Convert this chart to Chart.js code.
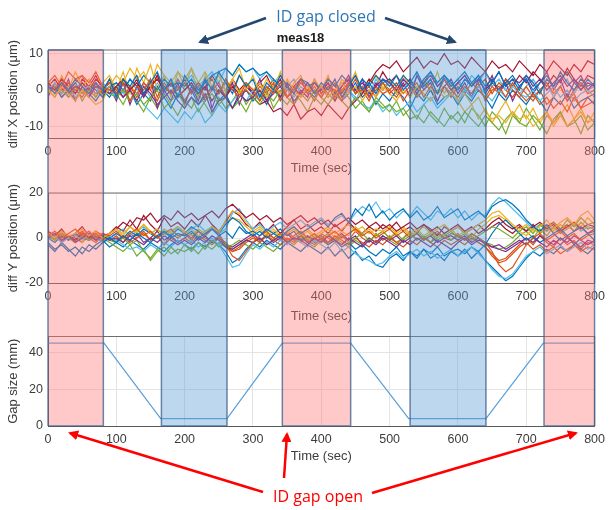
<!DOCTYPE html>
<html>
<head>
<meta charset="utf-8">
<script src="https://cdn.jsdelivr.net/npm/chart.js@4.4.1/dist/chart.umd.min.js"></script>
<style>
  html, body { margin: 0; padding: 0; background: #fff; }
  #wrap { position: relative; width: 611px; height: 510px; overflow: hidden; }
  #wrap canvas { position: absolute; left: 0; }
  #notes { position: absolute; left: 0; top: 0; pointer-events: none; }
</style>
</head>
<body>
<div id="wrap">
  <canvas id="cx" width="611" height="176" style="top:0px"></canvas>
  <canvas id="cy" width="611" height="148" style="top:176px"></canvas>
  <canvas id="cg" width="611" height="186" style="top:324px"></canvas>
  <svg id="notes" width="611" height="510">
    <defs>
      <marker id="headBlue" viewBox="0 0 10 10" refX="8" refY="5" markerWidth="4" markerHeight="4" orient="auto">
        <path d="M0,0 L10,5 L0,10 z" fill="#24476e"/>
      </marker>
      <marker id="headRed" viewBox="0 0 10 10" refX="8" refY="5" markerWidth="4" markerHeight="4" orient="auto">
        <path d="M0,0 L10,5 L0,10 z" fill="#ff0000"/>
      </marker>
    </defs>
    <line x1="266" y1="18" x2="200" y2="42" stroke="#24476e" stroke-width="2.5" marker-end="url(#headBlue)"/>
    <line x1="385" y1="18" x2="455" y2="42" stroke="#24476e" stroke-width="2.5" marker-end="url(#headBlue)"/>
    <text x="326" y="22" text-anchor="middle" font-family="Open Sans, sans-serif" font-size="16" fill="#2e75b6">ID gap closed</text>
    <line x1="263" y1="492" x2="70" y2="433" stroke="#ff0000" stroke-width="2.5" marker-end="url(#headRed)"/>
    <line x1="284" y1="478" x2="287" y2="434" stroke="#ff0000" stroke-width="2.5" marker-end="url(#headRed)"/>
    <line x1="372" y1="493" x2="576" y2="433" stroke="#ff0000" stroke-width="2.5" marker-end="url(#headRed)"/>
    <text x="318" y="502" text-anchor="middle" font-family="Open Sans, sans-serif" font-size="16" fill="#ff0000">ID gap open</text>
  </svg>
</div>
<script>
// ---- data ----
const times = [0, 10, 20, 30, 40, 50, 60, 70, 80, 90,
  100, 110, 120, 130, 140, 150, 160, 170, 180, 190,
  200, 210, 220, 230, 240, 250, 260, 270, 280, 290,
  300, 310, 320, 330, 340, 350, 360, 370, 380, 390,
  400, 410, 420, 430, 440, 450, 460, 470, 480, 490,
  500, 510, 520, 530, 540, 550, 560, 570, 580, 590,
  600, 610, 620, 630, 640, 650, 660, 670, 680, 690,
  700, 710, 720, 730, 740, 750, 760, 770, 780, 790, 800];

// diff X position (um), one array per BPM
const x1 = [1, -1, 2, 0, 3, 1, -1, 2, 0, 3, -2, 3, 1, 4, -1, 2, 5, 0, 3, -2, 4, 1, -1, 3, 0, 5, 2, -1, 4, 1,
  3, -2, 2, 0, 4, 1, -1, 3, 2, -1, 2, 0, 3, -2, 1, 4, 0, 2, -1, 3, 1, 4, 0, 2, 5, 1, 3, -1, 4, 2,
  0, 3, 1, 4, -1, 2, 5, 1, 3, 0, 4, 2, -1, 3, 1, 5, 2, 0, 3, 1, 2];
const x2 = [2, 4, 1, 5, 3, 4, 2, 5, 1, 0, -1, 2, -3, 1, 0, 3, -2, 2, -1, 1, -3, 0, 2, -2, 1, -1, 3, 0, -2, 2,
  0, -3, 1, -1, 2, -2, 0, 3, -1, 1, -2, 1, 0, -3, 2, -1, 1, -2, 0, 2, -1, 1, -3, 0, 2, -2, 1, -1, 3, 0,
  -2, 1, -1, 2, -3, 0, 1, -2, 2, -1, -3, -1, -4, -2, -5, -3, -6, -2, -5, -4, -3];
const x3 = [0, -2, 1, -1, -3, 0, -2, -4, -3, 1, 4, 2, 6, 3, 5, 1, 7, 4, 2, 5, 3, 6, 2, 5, 1, 4, 0, 3, -1, 2,
  0, 2, -2, 1, -1, 3, 0, -2, 1, -1, 1, -2, 0, 2, -1, 1, -3, 0, -2, 1, -1, -3, 0, -2, 1, -1, -3, 0, -2, -1,
  -3, -1, -4, -2, -6, -8, -7, -9, -6, -8, -7, -10, -8, -6, -9, -7, -10, -8, -6, -9, -8];
const x4 = [1, 0, 2, -1, 1, 0, -2, 1, 0, -1, 1, -2, 0, -3, 1, -1, -4, -2, 0, -3, -5, -2, -4, -1, -6, -3, -2, -5, -1, -3,
  -2, 0, -3, -1, 1, -2, 0, -1, 2, -1, 0, 2, -1, 1, 3, 0, 2, -1, 1, 3, 2, 0, 3, 1, -1, 2, 4, 1, 3, 0,
  2, 4, 1, 3, 0, 2, 5, 1, 3, 2, 4, 1, 3, 0, 2, 4, 1, 3, 0, 2, 1];
const x5 = [-1, 1, 0, -2, 1, -1, 0, -2, 1, -1, -2, 0, -3, -1, -4, -2, 0, -5, -3, -1, -4, -2, -6, -3, -1, -4, -2, -5, -3, -6,
  -2, -4, -1, -3, 0, -2, -4, -1, -3, 0, -2, -4, -1, -3, -5, -2, -4, -6, -3, -5, -4, -6, -5, -8, -7, -9, -6, -8, -10, -7,
  -9, -6, -8, -10, -7, -9, -11, -8, -6, -9, -10, -7, -9, -12, -8, -6, -10, -9, -7, -11, -9];
const x6 = [0, 2, -1, 1, -2, 0, 1, -1, 2, 0, -2, 0, -3, -1, -4, -6, -8, -5, -7, -9, -6, -8, -5, -9, -7, -4, -6, -3, -1, -3,
  0, -2, 1, -1, 2, 0, -2, 1, -1, 0, -2, 1, -1, -3, 0, -2, -4, -5, -3, -6, -4, -7, -5, -3, -6, -4, -2, -5, -3, -1,
  -3, 0, -2, 1, -1, -3, 0, -2, 1, -1, -2, 0, -3, -1, 1, -2, 0, -3, -1, 0, -2];
const x7 = [2, 0, 3, 1, -1, 2, 0, 3, 1, -1, 1, 3, 0, 2, -1, 1, 3, 0, 2, -2, 0, 2, -1, 1, -3, 0, -2, 1, -1, -3,
  -2, -4, -3, -6, -5, -7, -4, -8, -6, -5, -7, -4, -6, -8, -5, -3, -1, 2, 5, 7, 6, 8, 5, 7, 9, 6, 8, 7, 10, 7,
  8, 6, 9, 7, 5, 8, 6, 7, 5, 8, 6, 4, 7, 5, 8, 6, 4, 7, 5, 8, 7];
const x8 = [-1, 1, -2, 0, 2, -1, 1, 0, -2, 1, 2, 0, 3, 1, 4, 2, 0, 3, 1, 2, 1, 3, 0, 2, 4, 5, 6, 4, 7, 5,
  6, 4, 5, 3, 1, 2, 0, 3, 1, 2, 0, 3, 1, 4, 2, 0, 3, 1, 4, 2, 3, 1, 4, 2, 0, 3, 5, 2, 4, 1,
  3, 5, 2, 4, 1, 3, 0, 2, 4, 1, 3, 0, 2, 4, 1, 3, 5, 2, 0, 3, 1];
const x9 = [0, 1, -1, 2, 0, -2, 1, -1, 0, 2, 0, -2, 1, -1, 2, 0, -3, 1, -1, 0, 2, -1, 1, -3, 0, 2, -2, 1, -1, 0,
  -2, 1, -1, 2, -3, 0, 1, -2, 0, 2, -1, 1, -2, 0, 2, -1, 0, -3, 1, -1, 0, 2, -1, 1, -2, 0, 3, -1, 1, -2,
  1, -1, 2, 0, -2, 1, -1, 3, 0, -2, 1, -2, 0, 2, -1, 1, -3, 0, 2, -1, 0];
const x10 = [3, -1, 4, 0, 5, 1, 3, -2, 2, 4, 0, 5, -1, 6, 2, 7, 0, 4, -2, 5, 1, 6, -2, 4, 0, 5, -1, 3, 6, 0,
  4, -1, 3, 0, 5, -2, 2, 4, -1, 3, 0, 4, -2, 3, 1, 5, -1, 2, 4, 0, 3, -1, 4, 1, -2, 3, 0, 5, -1, 2,
  -3, -6, -4, -8, -5, -9, -6, -3, -7, -4, -8, -5, -9, -6, -10, -7, -4, -8, -5, -9, -6];
const x11 = [-2, 2, -1, 3, -3, 1, -2, 2, -1, 1, -3, 2, -4, 1, -2, 3, -5, 0, -3, 2, -4, 1, -3, 3, -5, 0, -2, 2, -4, 1,
  -1, 3, -3, 1, -2, 2, -4, 0, -2, 3, -1, 2, -3, 1, 4, -1, 3, -2, 2, 0, 3, -1, 2, -2, 4, 0, 2, -3, 1, 3,
  -1, 2, -2, 3, 0, 4, -1, 2, -3, 1, 3, -1, 2, 5, 0, 3, -2, 2, 4, 0, 2];
const x12 = [0, -2, 2, -1, 1, -3, 0, 2, -2, 1, -1, -4, 0, -3, -6, -2, -5, -1, -4, -7, -3, -5, -1, -4, -7, -2, -5, -3, 0, -4,
  -1, -3, 0, -5, -2, -4, -1, -3, -6, -2, -4, -1, -3, 0, -2, -5, -3, -6, -2, -4, -6, -3, -7, -5, -8, -4, -7, -9, -5, -8,
  -6, -9, -5, -7, -10, -6, -8, -12, -7, -9, -5, -8, -11, -7, -9, -6, -10, -8, -12, -7, -9];
const x13 = [1, -1, 2, -2, 0, 2, -1, 1, -2, 0, 2, -1, 3, 0, 1, -2, 2, -1, 3, 0, 2, 4, 1, 3, 5, 2, 6, 4, 7, 5,
  6, 3, 5, 2, 4, 1, 3, -1, 2, 0, -2, 1, -1, 2, 0, -3, 1, -1, 3, 0, 2, -1, 3, 0, 4, 1, 5, 2, 4, 1,
  3, 0, 4, 2, 5, 1, 3, 0, 2, -1, 1, 3, 0, 2, -2, 1, 3, -1, 2, 0, 1];
const x14 = [1, 3, 0, 2, -1, 3, 1, 4, 0, 2, -1, 2, 0, 3, -2, 1, 4, -1, 2, 0, 3, -1, 2, 0, 4, 1, -2, 3, 0, 2,
  -1, 2, 4, 0, 3, -2, 1, 3, -1, 2, 0, 3, 1, -1, 2, 4, 0, 3, 1, 5, 2, 4, 1, 3, 0, 2, 5, 1, 3, 0,
  2, 4, 1, 3, 5, 2, 0, 3, 1, 4, 2, 5, 3, 1, 4, 2, 6, 3, 1, 4, 3];
const x15 = [-1, 1, -2, 0, -3, 1, -1, -3, 0, -2, 1, -2, 0, -4, -1, -3, 1, -2, -5, -1, -3, 0, -4, -2, 1, -3, -1, -5, -2, 0,
  -3, -1, -4, 0, -2, 1, -3, -1, 0, -2, 1, -2, 0, -3, -1, 2, -2, 0, -4, -1, -3, 0, -2, -5, -1, -3, 0, -4, -2, -1,
  -4, -1, -3, 0, -2, -5, -1, -3, 0, -2, -4, -1, -3, -6, -2, -4, -1, -5, -3, -2, -4];
const x16 = [2, 0, 3, -1, 2, 4, 0, 2, -1, 3, 0, 3, 1, -2, 2, 0, 4, 1, -1, 3, 0, 2, -2, 1, 3, -1, 2, 0, 4, 1,
  -1, 2, 0, 3, -2, 1, -1, 2, 0, -3, 1, -1, 2, -2, 0, 3, -1, 1, -2, 2, 0, -2, 1, 3, -1, 2, 0, -3, 1, -1,
  2, 0, -2, 1, 3, -1, 2, 0, -2, 1, -1, -3, 0, -4, -2, 1, -3, -1, -5, -2, -1];

// diff Y position (um)
const y1 = [-2, -5, -3, -6, -4, -7, -3, -5, -2, 0, -2, 1, -1, 2, 0, -2, 1, 3, 0, 2, 1, 3, 0, 2, 4, 1, 3, 0, 5, 2,
  3, 1, 4, 2, 0, 3, 5, 2, 4, 6, 8, 5, 9, 11, 7, 13, 10, 15, 9, 12, 8, 11, 13, 9, 12, 8, 10, 14, 9, 11,
  13, 8, 10, 12, 9, 14, 16, 17, 15, 12, 8, 5, 3, 6, 2, 4, 1, 3, 5, 2, 3];
const y2 = [1, 3, 0, 2, 4, 1, 3, 0, 2, 1, 3, 0, 2, 4, 1, 3, 0, 2, 4, 1, 2, 0, 3, 1, 4, 2, -3, -8, -10, -6,
  -2, 1, 3, 0, 2, -1, 1, 3, 0, 2, -1, 1, 3, 0, 2, 4, 1, 3, 0, 2, 4, 1, 3, 0, 2, -1, 1, 3, 0, 2,
  1, -1, 2, 0, -2, -6, -12, -15, -13, -8, -3, 0, 2, -1, 1, 3, 0, 2, -1, 1, 2];
const y3 = [2, 0, 3, 1, 2, 4, 1, 3, 0, 2, 4, 2, 5, 3, 6, 2, 4, 1, 3, 5, 2, 4, 1, 3, 5, 2, 8, 12, 11, 7,
  3, 5, 2, 4, 1, 3, 5, 2, 4, 1, 3, 5, 2, 4, 6, 3, 5, 2, 4, 3, 5, 2, 4, 1, 3, 5, 2, 4, 6, 3,
  5, 2, 4, 6, 8, 11, 12, 9, 6, 4, 6, 3, 5, 8, 4, 7, 9, 6, 10, 12, 8];
const y4 = [0, 2, -1, 1, -2, 0, 2, -1, 1, -1, 0, -2, 1, -1, -3, 0, -2, 1, -1, -3, -1, -3, 0, -2, 1, -1, -4, -5, -3, -1,
  -2, 0, -3, -1, 1, -2, 0, -1, -3, 0, -2, 1, -1, -3, 0, -2, -4, -1, -3, 0, -2, -4, -1, -3, 0, -2, -4, -1, -3, -5,
  -2, 0, -3, -1, -2, -4, -3, -5, -3, -1, -3, 0, -2, -4, -1, -3, 0, -2, -4, -1, -2];
const y5 = [1, -1, 2, 0, -2, 1, -1, 0, 2, -1, -2, 0, -3, -1, -6, -9, -5, -8, -4, -7, -3, -6, -2, -5, -1, -4, -2, -5, -3, -1,
  -2, 0, -3, -1, 1, -2, 0, 2, -1, 1, 0, 2, -1, 1, -2, 0, 2, -1, 1, 3, 0, 2, -1, 1, 3, 0, 2, -1, 1, 3,
  0, 2, -1, 1, 3, 5, 4, 2, 0, 3, 5, 2, 6, 3, 7, 4, 8, 5, 9, 6, 7];
const y6 = [-1, 1, -2, 0, 1, -1, 2, 0, -2, 1, -1, -3, -5, -4, -6, -3, -5, -2, -4, -1, -3, -1, -4, -2, 0, -3, -8, -13, -12, -7,
  -3, -5, -2, -4, -1, -3, 0, -2, -4, -1, -3, -5, -2, -6, -4, -7, -9, -10, -12, -11, -8, -6, -9, -7, -5, -8, -6, -9, -7, -5,
  -8, -6, -4, -7, -10, -14, -17, -18, -16, -12, -8, -6, -4, -7, -5, -3, -6, -4, -2, -5, -3];
const y7 = [2, 0, 3, 1, -1, 2, 0, 3, 1, 2, 4, 7, 5, 9, 8, 11, 7, 10, 8, 12, 9, 11, 8, 10, 12, 9, 13, 15, 12, 9,
  11, 8, 10, 7, 9, 6, 8, 10, 7, 9, 6, 8, 5, 7, 9, 6, 8, 5, 7, 4, 6, 3, 5, 7, 4, 6, 3, 5, 2, 4,
  6, 3, 5, 2, 4, 7, 9, 6, 4, 6, 3, 5, 7, 4, 6, 3, 5, 7, 4, 6, 5];
const y8 = [0, -2, 1, -1, 2, 0, -1, 1, -2, 0, 2, 0, 3, 1, 4, 2, 0, 3, 1, 4, 2, 5, 3, 1, 4, 2, 6, 9, 7, 3,
  1, 3, 0, 2, 4, 1, 3, -1, 1, -2, 0, -3, -1, -4, -2, -5, -3, -6, -8, -5, -7, -4, -8, -6, -9, -5, -7, -4, -8, -6,
  -5, -7, -4, -6, -3, 2, 6, 8, 5, 2, -1, 1, -2, 0, 2, -1, 1, -3, 0, 2, -1];
const y9 = [1, 0, 2, -1, 1, 3, 0, 2, -1, 1, -1, 1, -2, 0, 2, -1, 1, -3, 0, -2, 0, -2, 1, -1, -3, 0, -2, -6, -5, -2,
  0, -2, 1, -1, -3, 0, -2, 1, -1, -3, 0, -2, 1, -1, -3, 0, -2, -4, -1, -3, 0, -2, -4, -1, -3, 0, -2, -4, -1, -3,
  -1, -3, 0, -2, -4, -8, -11, -10, -7, -4, -2, -5, -3, -6, -4, -7, -5, -3, -6, -4, -5];
const y10 = [2, -1, 3, 0, 2, -2, 1, 3, -1, 2, 4, 1, 5, 2, 6, 3, 1, 4, 2, 5, 3, 1, 4, 2, 5, 3, 7, 9, 8, 5,
  2, 4, 1, 3, 0, 2, 4, 1, 3, 0, 2, 4, 0, 3, 1, 5, 2, 4, 1, 3, 0, 3, 5, 2, 4, 1, 3, 0, 2, 4,
  1, 3, 0, 4, 6, 9, 10, 8, 5, 3, 1, 4, 2, 5, 3, 6, 4, 7, 5, 9, 6];
const y11 = [-1, 1, -2, 1, 0, -2, 1, -1, 2, 0, -2, 1, -1, 2, -2, 0, 3, -1, 1, -2, 0, 2, -1, 1, -2, 0, -3, -4, -2, 0,
  2, -1, 1, -2, 0, 2, -1, 1, -2, 0, 1, -2, 0, 2, -1, 1, -3, 0, -2, 1, -1, 1, -2, 0, 2, -1, 1, -2, 0, 1,
  -1, 1, -2, 0, -3, -4, -5, -6, -4, -2, 0, -2, 1, -1, -3, 0, -2, 1, -1, -3, -1];
const y12 = [0, 2, -1, 1, -2, 1, -1, 2, 0, -2, -4, -6, -3, -8, -5, -10, -6, -4, -7, -5, -6, -4, -7, -3, -5, -2, -4, -3, -1, -3,
  -5, -2, -4, -6, -3, -1, -3, 0, -2, -4, -1, -3, 0, -2, -4, -1, -3, 0, -2, 1, -1, -3, 0, 2, -1, 1, -2, 0, 2, -1,
  1, -1, 2, 0, -2, -3, -5, -4, -2, 1, 3, 0, 4, 1, 5, 2, 6, 3, 7, 4, 5];
const y13 = [1, -1, 2, 0, -2, 1, 3, -1, 1, 0, 2, 4, 1, 3, 5, 2, 4, 1, 3, 5, 2, 4, 6, 3, 5, 2, 4, 11, 13, 8,
  4, 6, 3, 5, 7, 4, 6, 8, 5, 7, 9, 6, 8, 10, 7, 11, 14, 12, 16, 11, 13, 9, 12, 10, 14, 11, 8, 12, 10, 13,
  9, 12, 8, 11, 10, 15, 18, 16, 13, 10, 7, 4, 6, 3, 5, 2, 4, 6, 3, 5, 4];
const y14 = [3, 1, 4, 0, 2, 5, 1, 3, 0, 2, 5, 3, 8, 4, 10, 6, 3, 9, 5, 7, 4, 8, 5, 10, 6, 3, 7, 12, 10, 6,
  4, 7, 3, 6, 2, 5, 8, 4, 6, 3, 5, 2, 6, 3, 7, 4, 2, 5, 3, 6, 4, 7, 3, 5, 2, 6, 4, 1, 5, 3,
  5, 2, 4, 6, 3, 5, 7, 4, 2, 5, 3, 6, 2, 5, 7, 4, 6, 3, 5, 2, 4];
const y15 = [-3, -6, -2, -5, -8, -4, -6, -3, -1, -4, -2, -4, -1, -3, -5, -2, -4, -6, -3, -1, -3, -5, -2, -4, -1, -3, -6, -11, -9, -5,
  -2, -4, -1, -3, -5, -2, -4, -6, -3, -5, -7, -4, -8, -5, -9, -6, -10, -8, -12, -13, -9, -7, -10, -6, -8, -5, -9, -7, -10, -6,
  -8, -5, -9, -6, -10, -13, -16, -19, -17, -13, -9, -6, -8, -5, -7, -4, -6, -3, -5, -7, -4];
const y16 = [0, 2, -2, 1, -1, 3, 0, -2, 1, -1, 1, -2, 2, 0, 3, -1, 1, -3, 2, 0, 2, -1, 3, 0, -2, 1, -4, -6, -4, -1,
  1, -2, 2, 0, -1, 3, 0, -2, 1, -1, 2, 0, -2, 1, -1, 3, 0, -2, 2, -1, 1, -2, 0, 3, -1, 1, -2, 2, 0, -1,
  2, -1, 1, -2, -4, -7, -10, -9, -6, -3, 0, -3, 1, -2, -4, 0, -3, -1, -5, -2, -3];

// gap size (mm)
const gapTimes = [0, 82, 165, 262, 343, 443, 528, 641, 725, 800];
const gapValues = [45, 45, 4, 4, 45, 45, 4, 4, 45, 45];

// shaded periods: open = red, closed = blue
const bandStart = [0, 166, 343, 530, 726];
const bandEnd = [81, 262, 443, 641, 800];
const bandKind = ['open', 'closed', 'open', 'closed', 'open'];

// ---- styling ----
const FONT = "'Liberation Sans', Arial, sans-serif";
const TICK = '#3c3c3c';
const GRID = '#e4e4e4';
const AXIS = '#5a5a5a';
const lineColors = ['#0072BD', '#D95319', '#EDB120', '#7E2F8E', '#77AC30', '#4DBEEE', '#A2142F'];

const bandsPlugin = {
    id: 'bands',
    afterDraw(chart, args, o) {
        const { ctx, chartArea, scales: { x } } = chart;
        const top = o.fromArea ? chartArea.top : 0;
        const bottom = o.toArea ? chartArea.bottom : chart.height;
        ctx.save();
        bandStart.forEach((s, i) => {
            const xa = x.getPixelForValue(s);
            const xb = x.getPixelForValue(bandEnd[i]);
            ctx.fillStyle = bandKind[i] === 'open' ? 'rgba(255,120,120,0.4)' : 'rgba(90,155,213,0.4)';
            ctx.fillRect(xa, top, xb - xa, bottom - top);
            ctx.strokeStyle = 'rgba(60,95,140,0.75)';
            ctx.lineWidth = 1.5;
            ctx.beginPath();
            ctx.moveTo(xa, top); ctx.lineTo(xa, bottom);
            ctx.moveTo(xb, top); ctx.lineTo(xb, bottom);
            if (o.fromArea) { ctx.moveTo(xa, top); ctx.lineTo(xb, top); }
            if (o.toArea) { ctx.moveTo(xa, bottom); ctx.lineTo(xb, bottom); }
            ctx.stroke();
        });
        ctx.restore();
    }
};

const boxPlugin = {
    id: 'box',
    afterDatasetsDraw(chart) {
        const { ctx, chartArea: a } = chart;
        ctx.save();
        ctx.strokeStyle = '#6e6e6e';
        ctx.lineWidth = 1.2;
        ctx.beginPath();
        ctx.moveTo(a.left, a.top); ctx.lineTo(a.right, a.top); ctx.lineTo(a.right, a.bottom);
        ctx.stroke();
        ctx.restore();
    }
};

function lineSets(list) {
    return list.map((vals, i) => ({
        data: vals,
        borderColor: lineColors[i % lineColors.length],
        borderWidth: 1.2,
        pointRadius: 0,
        fill: false,
        tension: 0
    }));
}

function panelOptions(cfg) {
    return {
        responsive: false,
        animation: false,
        devicePixelRatio: 1,
        layout: { padding: { left: 0, right: 10, top: cfg.padTop, bottom: 0 } },
        plugins: {
            legend: { display: false },
            tooltip: { enabled: false },
            title: cfg.title ? {
                display: true, text: cfg.title, color: '#1a1a1a',
                font: { family: FONT, size: 13, weight: 'bold' },
                padding: { top: 31, bottom: 3.4 }
            } : { display: false },
            bands: cfg.bands
        },
        scales: {
            x: {
                type: 'linear', min: 0, max: 800,
                afterFit(s) { s.height = cfg.xH; },
                ticks: { stepSize: 100, color: TICK, font: { family: FONT, size: 12.5 }, padding: 6, maxRotation: 0, includeBounds: false },
                grid: { color: GRID, drawTicks: false },
                border: { color: AXIS },
                title: { display: true, text: 'Time (sec)', color: TICK, font: { family: FONT, size: 13 }, padding: { top: 0, bottom: cfg.xTitlePad } }
            },
            y: {
                min: cfg.yMin, max: cfg.yMax,
                afterFit(s) { s.width = 48; },
                ticks: { stepSize: cfg.yStep, includeBounds: false, color: TICK, font: { family: FONT, size: 12.5 }, padding: 5 },
                grid: { color: GRID, drawTicks: false },
                border: { color: AXIS },
                title: { display: true, text: cfg.yTitle, color: TICK, font: { family: FONT, size: 13 }, padding: { top: 6, bottom: 0 } }
            }
        }
    };
}

new Chart(document.getElementById('cx'), {
    type: 'line',
    data: { labels: times, datasets: lineSets([x1, x2, x3, x4, x5, x6, x7, x8, x9, x10, x11, x12, x13, x14, x15, x16]) },
    options: panelOptions({ title: 'meas18', padTop: 0, xH: 38, xTitlePad: 0, yMin: -13.2, yMax: 11, yStep: 10,
        yTitle: 'diff X position (μm)', bands: { fromArea: true, toArea: false } }),
    plugins: [boxPlugin, bandsPlugin]
});

new Chart(document.getElementById('cy'), {
    type: 'line',
    data: { labels: times, datasets: lineSets([y1, y2, y3, y4, y5, y6, y7, y8, y9, y10, y11, y12, y13, y14, y15, y16]) },
    options: panelOptions({ padTop: 17, xH: 41, xTitlePad: 0, yMin: -20, yMax: 20, yStep: 20,
        yTitle: 'diff Y position (μm)', bands: { fromArea: false, toArea: false } }),
    plugins: [boxPlugin, bandsPlugin]
});

new Chart(document.getElementById('cg'), {
    type: 'line',
    data: {
        datasets: [{
            data: gapTimes.map((t, i) => ({ x: t, y: gapValues[i] })),
            borderColor: '#5aa0da', borderWidth: 1.2, pointRadius: 0, fill: false, tension: 0
        }]
    },
    options: panelOptions({ padTop: 11.7, xH: 84, xTitlePad: 45.8, yMin: 0, yMax: 48.6, yStep: 20,
        yTitle: 'Gap size (mm)', bands: { fromArea: false, toArea: true } }),
    plugins: [boxPlugin, bandsPlugin]
});
</script>
</body>
</html>
